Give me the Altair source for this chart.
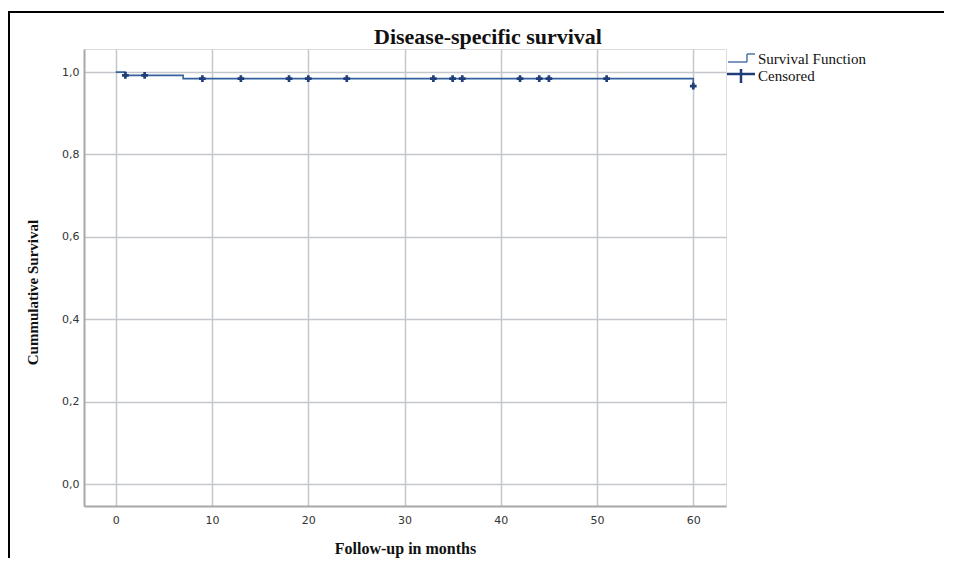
import altair as alt
import pandas as pd

# Survival step function (time in months, cumulative survival)
surv_time = [0, 1, 7, 60]
surv_value = [1.0, 0.992, 0.984, 0.966]

# Censored observations
cens_time = [1, 3, 9, 13, 18, 20, 24, 33, 35, 36, 42, 44, 45, 51, 60]
cens_value = [0.992, 0.992, 0.984, 0.984, 0.984, 0.984, 0.984, 0.984,
              0.984, 0.984, 0.984, 0.984, 0.984, 0.984, 0.966]

x_ticks = [0, 10, 20, 30, 40, 50, 60]
y_ticks = [0.0, 0.2, 0.4, 0.6, 0.8, 1.0]
legend_labels = ["Survival Function", "Censored"]
title_text = "Disease-specific survival"

W, H = 642, 457
LINE = "#33609e"
MARK = "#1f3e78"
SERIF = "Liberation Serif"

surv = pd.DataFrame({"t": surv_time, "s": surv_value})
cens = pd.DataFrame({"t": cens_time, "s": cens_value})
one = pd.DataFrame({"a": [0]})

xs = alt.Scale(domain=[-3.3, 63.4], nice=False, zero=False)
ys = alt.Scale(domain=[-0.053, 1.056], nice=False, zero=False)

x_axis = alt.Axis(values=x_ticks, title="Follow-up in months", grid=True,
                  ticks=False, labelPadding=8, titlePadding=15,
                  labelFont="DejaVu Sans", labelFontSize=11, labelColor="#333",
                  titleFont=SERIF, titleFontSize=16, titleFontWeight="bold",
                  titleColor="#111", domainColor="#a8a8a8", domainWidth=2,
                  gridColor="#c4c7cb", gridWidth=1.5)
y_axis = alt.Axis(values=y_ticks, title="Cummulative Survival", grid=True,
                  ticks=False, labelPadding=5,
                  labelExpr="replace(format(datum.value, '.1f'), '.', ',')",
                  labelFont="DejaVu Sans", labelFontSize=11, labelColor="#333",
                  titleFont=SERIF, titleFontSize=15, titleFontWeight="bold",
                  titleColor="#111", titlePadding=21, titleY=243,
                  domainColor="#a8a8a8", domainWidth=2,
                  gridColor="#c4c7cb", gridWidth=1.5)

line = alt.Chart(surv).mark_line(interpolate="step-after", color=LINE,
                                 strokeWidth=1.6).encode(
    x=alt.X("t:Q", scale=xs, axis=x_axis),
    y=alt.Y("s:Q", scale=ys, axis=y_axis),
)

pts = alt.Chart(cens).mark_point(shape="cross", filled=True, color=MARK,
                                 size=45, opacity=1).encode(
    x=alt.X("t:Q", scale=xs),
    y=alt.Y("s:Q", scale=ys),
)

# Manual legend (SPSS style) to the right of the plot
lx0 = 644
def rule(color, sw, **enc):
    return alt.Chart(one).mark_rule(color=color, strokeWidth=sw).encode(**enc)

leg = [
    rule(LINE, 1.3, x=alt.value(lx0), x2=alt.value(lx0 + 19), y=alt.value(13)),
    rule(LINE, 1.3, x=alt.value(lx0 + 19), y=alt.value(13), y2=alt.value(5)),
    rule(LINE, 1.3, x=alt.value(lx0 + 19), x2=alt.value(lx0 + 27), y=alt.value(5)),
    rule(MARK, 2.5, x=alt.value(lx0 - 1), x2=alt.value(lx0 + 27), y=alt.value(25)),
    rule(MARK, 2.5, x=alt.value(lx0 + 13), y=alt.value(20), y2=alt.value(34)),
]
for i, lab in enumerate(legend_labels):
    leg.append(alt.Chart(one).mark_text(
        align="left", baseline="middle", font=SERIF, fontSize=15, color="#111",
        text=lab).encode(x=alt.value(lx0 + 30), y=alt.value(10 + i * 16.5)))

# Chart title as text above the plot
title = alt.Chart(one).mark_text(
    align="center", baseline="middle", font=SERIF, fontSize=22,
    fontWeight="bold", color="#111", text=title_text
).encode(x=alt.value(404), y=alt.value(-12))

# Outer frame (top and left edges as in the source image)
frame = [
    rule("#000", 2, x=alt.value(-75), x2=alt.value(862), y=alt.value(-37)),
    rule("#000", 2, x=alt.value(-75), y=alt.value(-38), y2=alt.value(520)),
]

chart = alt.layer(line, pts, *leg, title, *frame).properties(
    width=W, height=H,
    autosize=alt.AutoSizeParams(type="none"),
    padding={"left": 76, "top": 41, "right": 218, "bottom": 52},
).configure_view(stroke=None).configure(background="white")

chart.save("out.html", embed_options={"renderer": "svg", "actions": False})
